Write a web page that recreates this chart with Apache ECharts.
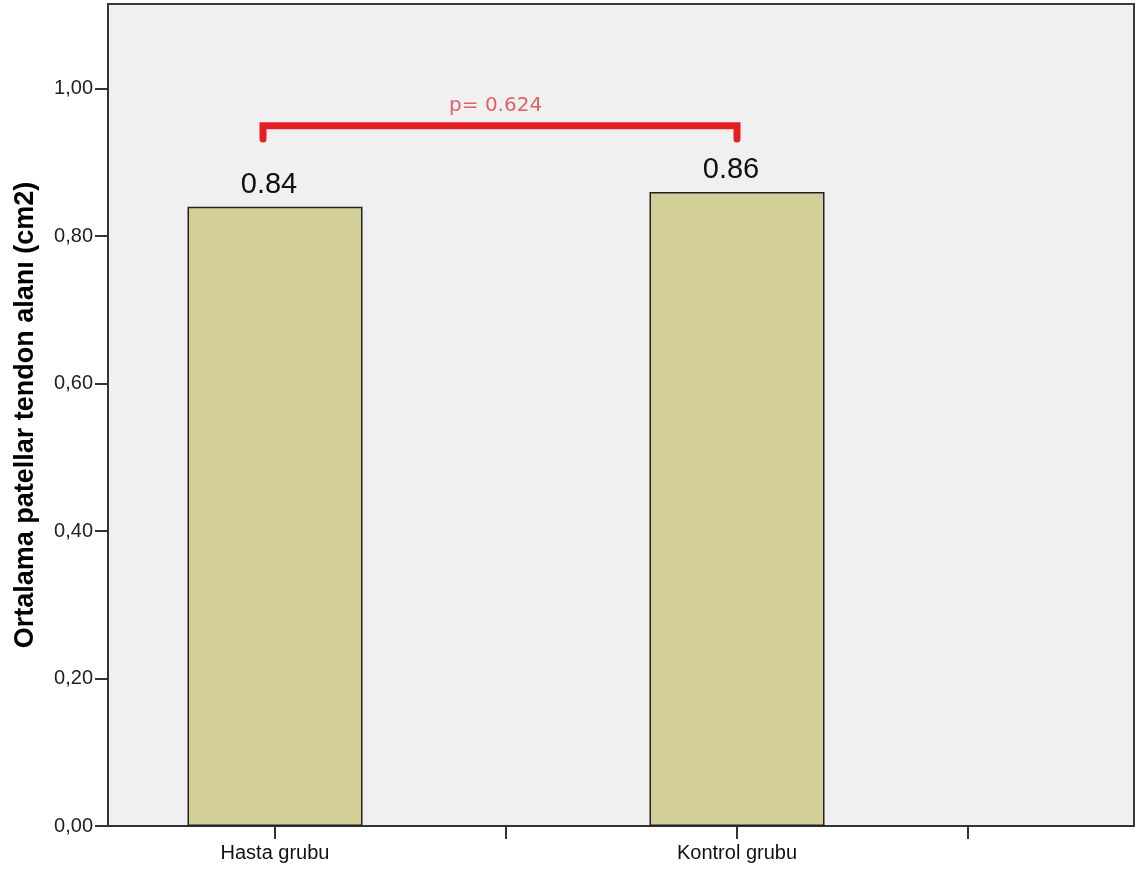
<!DOCTYPE html>
<html>
<head>
<meta charset="utf-8">
<script src="https://cdn.jsdelivr.net/npm/echarts@6/dist/echarts.min.js"></script>
<style>html,body{margin:0;padding:0;background:#fff;}#c{width:1139px;height:875px;}</style>
</head>
<body>
<div id="c"></div>
<script>
// Data
const categories = ['Hasta grubu', 'Kontrol grubu'];
const means = [0.84, 0.86];
const valueLabels = ['0.84', '0.86'];
const yTicks = [0, 0.2, 0.4, 0.6, 0.8, 1.0];
const pText = 'p= 0.624';
// bracket annotation in data space (x position, y value)
const bracketX = [0.948, 3.0];
const bracketY = [0.932, 0.95];
const pLabelPos = [1.955, 0.95];

const catPos = categories.map((c, i) => 1 + i * 2);
const xTicks = [1, 2, 3, 4];

const chart = echarts.init(document.getElementById('c'));
chart.setOption({
  animation: false,
  backgroundColor: '#ffffff',
  grid: {
    left: 108, right: 5, top: 4, bottom: 49,
    show: true, backgroundColor: '#f0f0f0', borderColor: '#3a3a3a', borderWidth: 2
  },
  xAxis: {
    type: 'value', min: 0.277, max: 4.7186,
    splitLine: { show: false },
    axisLine: { show: true, onZero: false, lineStyle: { color: '#333', width: 2 } },
    axisTick: { show: true, customValues: xTicks, length: 13, lineStyle: { color: '#333', width: 2 } },
    axisLabel: {
      customValues: catPos, margin: 17,
      formatter: v => { const i = catPos.indexOf(Math.round(v)); return i >= 0 ? categories[i] : ''; },
      fontFamily: 'Liberation Sans, Arial, sans-serif', fontSize: 20, color: '#111'
    }
  },
  yAxis: {
    type: 'value', min: 0, max: 1.115,
    name: 'Ortalama patellar tendon alanı (cm2)',
    nameLocation: 'middle', nameGap: 69,
    nameTextStyle: { fontFamily: 'Liberation Sans, Arial, sans-serif', fontWeight: 'bold', fontSize: 27, color: '#000' },
    splitLine: { show: false },
    axisLine: { show: true, lineStyle: { color: '#333', width: 2 } },
    axisTick: { show: true, customValues: yTicks, length: 13, lineStyle: { color: '#333', width: 2 } },
    axisLabel: {
      customValues: yTicks, margin: 15,
      formatter: v => v.toFixed(2).replace('.', ','),
      fontFamily: 'Liberation Sans, Arial, sans-serif', fontSize: 20, color: '#222'
    }
  },
  series: [
    {
      type: 'bar',
      barWidth: 175,
      data: means.map((m, i) => [catPos[i], m]),
      itemStyle: { color: '#d3cf98', borderColor: '#222', borderWidth: 1.5 },
      label: {
        show: true, position: 'top', distance: 7, offset: [-6, 0],
        formatter: p => valueLabels[p.dataIndex],
        fontFamily: 'Liberation Sans, Arial, sans-serif', fontSize: 29, color: '#111'
      }
    },
    {
      type: 'line',
      data: [[bracketX[0], bracketY[0]], [bracketX[0], bracketY[1]], [bracketX[1], bracketY[1]], [bracketX[1], bracketY[0]]],
      symbol: 'none',
      lineStyle: { color: '#e31e25', width: 7, cap: 'round', join: 'miter' },
      z: 5
    },
    {
      type: 'scatter',
      data: [pLabelPos],
      symbolSize: 0,
      label: {
        show: true, position: 'top', distance: 10,
        formatter: () => pText,
        fontFamily: 'DejaVu Sans, sans-serif', fontSize: 20, color: '#dc3c46'
      }
    }
  ]
});
</script>
</body>
</html>
